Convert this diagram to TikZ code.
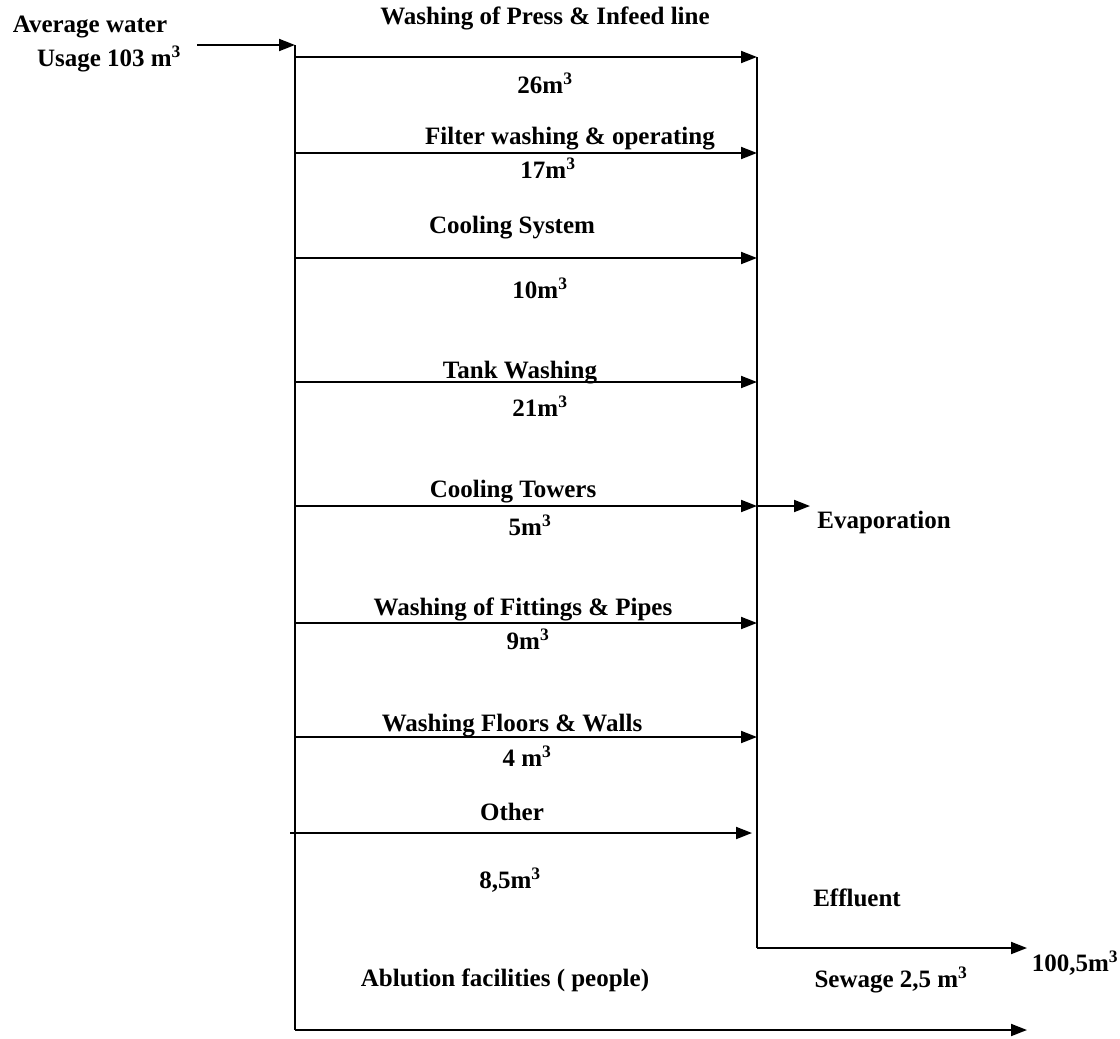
\documentclass[tikz,border=0pt]{standalone}
\usepackage{fontspec}
\setmainfont{Liberation Serif}
\usetikzlibrary{arrows.meta}
\begin{document}
\begin{tikzpicture}[x=1pt,y=-1pt,
  lbl/.style={font=\fontsize{25}{28}\selectfont\bfseries, inner sep=0pt, anchor=center},
  flow/.style={line width=1.9pt, -{Triangle[length=16pt,width=12pt]}},
  wire/.style={line width=1.3pt}]
\useasboundingbox (0,0) rectangle (1120,1039);
% coordinates
\coordinate (inS) at (197,45);
\coordinate (Ltop) at (295,45);
\coordinate (Lbot) at (295,1030);
\coordinate (Rtop) at (757,57);
\coordinate (Rbot) at (757,948);
\foreach \n/\y in {a/57,b/153,c/258,d/382,e/506,f/623,g/737}{
  \coordinate (L\n) at (295,\y);
  \coordinate (R\n) at (757,\y);
}
\coordinate (Lh) at (290,833);
\coordinate (Rh) at (752,833);
\coordinate (evap) at (810,506);
\coordinate (effE) at (1027,948);
\coordinate (sewE) at (1027,1030);
% lines
\draw[wire] (Ltop) -- (Lbot);
\draw[wire] (Rtop) -- (Rbot);
\draw[flow] (inS) -- (Ltop);
\foreach \n in {a,b,c,d,e,f,g}{ \draw[flow] (L\n) -- (R\n); }
\draw[flow] (Lh) -- (Rh);
\draw[flow] (Re) -- (evap);
\draw[flow] (Rbot) -- (effE);
\draw[flow] (Lbot) -- (sewE);
% labels
\node[lbl] (avg) at (90,27) {Average water};
\node[lbl] (usage) at (109,59) {Usage 103 m$^{\mathbf 3}$};
\node[lbl] (t1) at (545,18) {Washing of Press \& Infeed line};
\node[lbl] (v1) at (545,83) {26m$^{\mathbf 3}$};
\node[lbl] (t2) at (570,139) {Filter washing \& operating};
\node[lbl] (v2) at (548,168) {17m$^{\mathbf 3}$};
\node[lbl] (t3) at (512,228) {Cooling System};
\node[lbl] (v3) at (540,288) {10m$^{\mathbf 3}$};
\node[lbl] (t4) at (520,373) {Tank Washing};
\node[lbl] (v4) at (540,406) {21m$^{\mathbf 3}$};
\node[lbl] (t5) at (513,492) {Cooling Towers};
\node[lbl] (v5) at (530,525) {5m$^{\mathbf 3}$};
\node[lbl] (evl) at (884,522) {Evaporation};
\node[lbl] (t6) at (523,609) {Washing of Fittings \& Pipes};
\node[lbl] (v6) at (528,639) {9m$^{\mathbf 3}$};
\node[lbl] (t7) at (512,726) {Washing Floors \& Walls};
\node[lbl] (v7) at (527,756) {4 m$^{\mathbf 3}$};
\node[lbl] (t8) at (512,812) {Other};
\node[lbl] (v8) at (510,880) {8,5m$^{\mathbf 3}$};
\node[lbl] (eff) at (857,898) {Effluent};
\node[lbl] (effv) at (1075,963) {100,5m$^{\mathbf 3}$};
\node[lbl] (abl) at (505,980) {Ablution facilities ( people)};
\node[lbl] (sew) at (891,980) {Sewage 2,5 m$^{\mathbf 3}$};
\end{tikzpicture}
\end{document}
